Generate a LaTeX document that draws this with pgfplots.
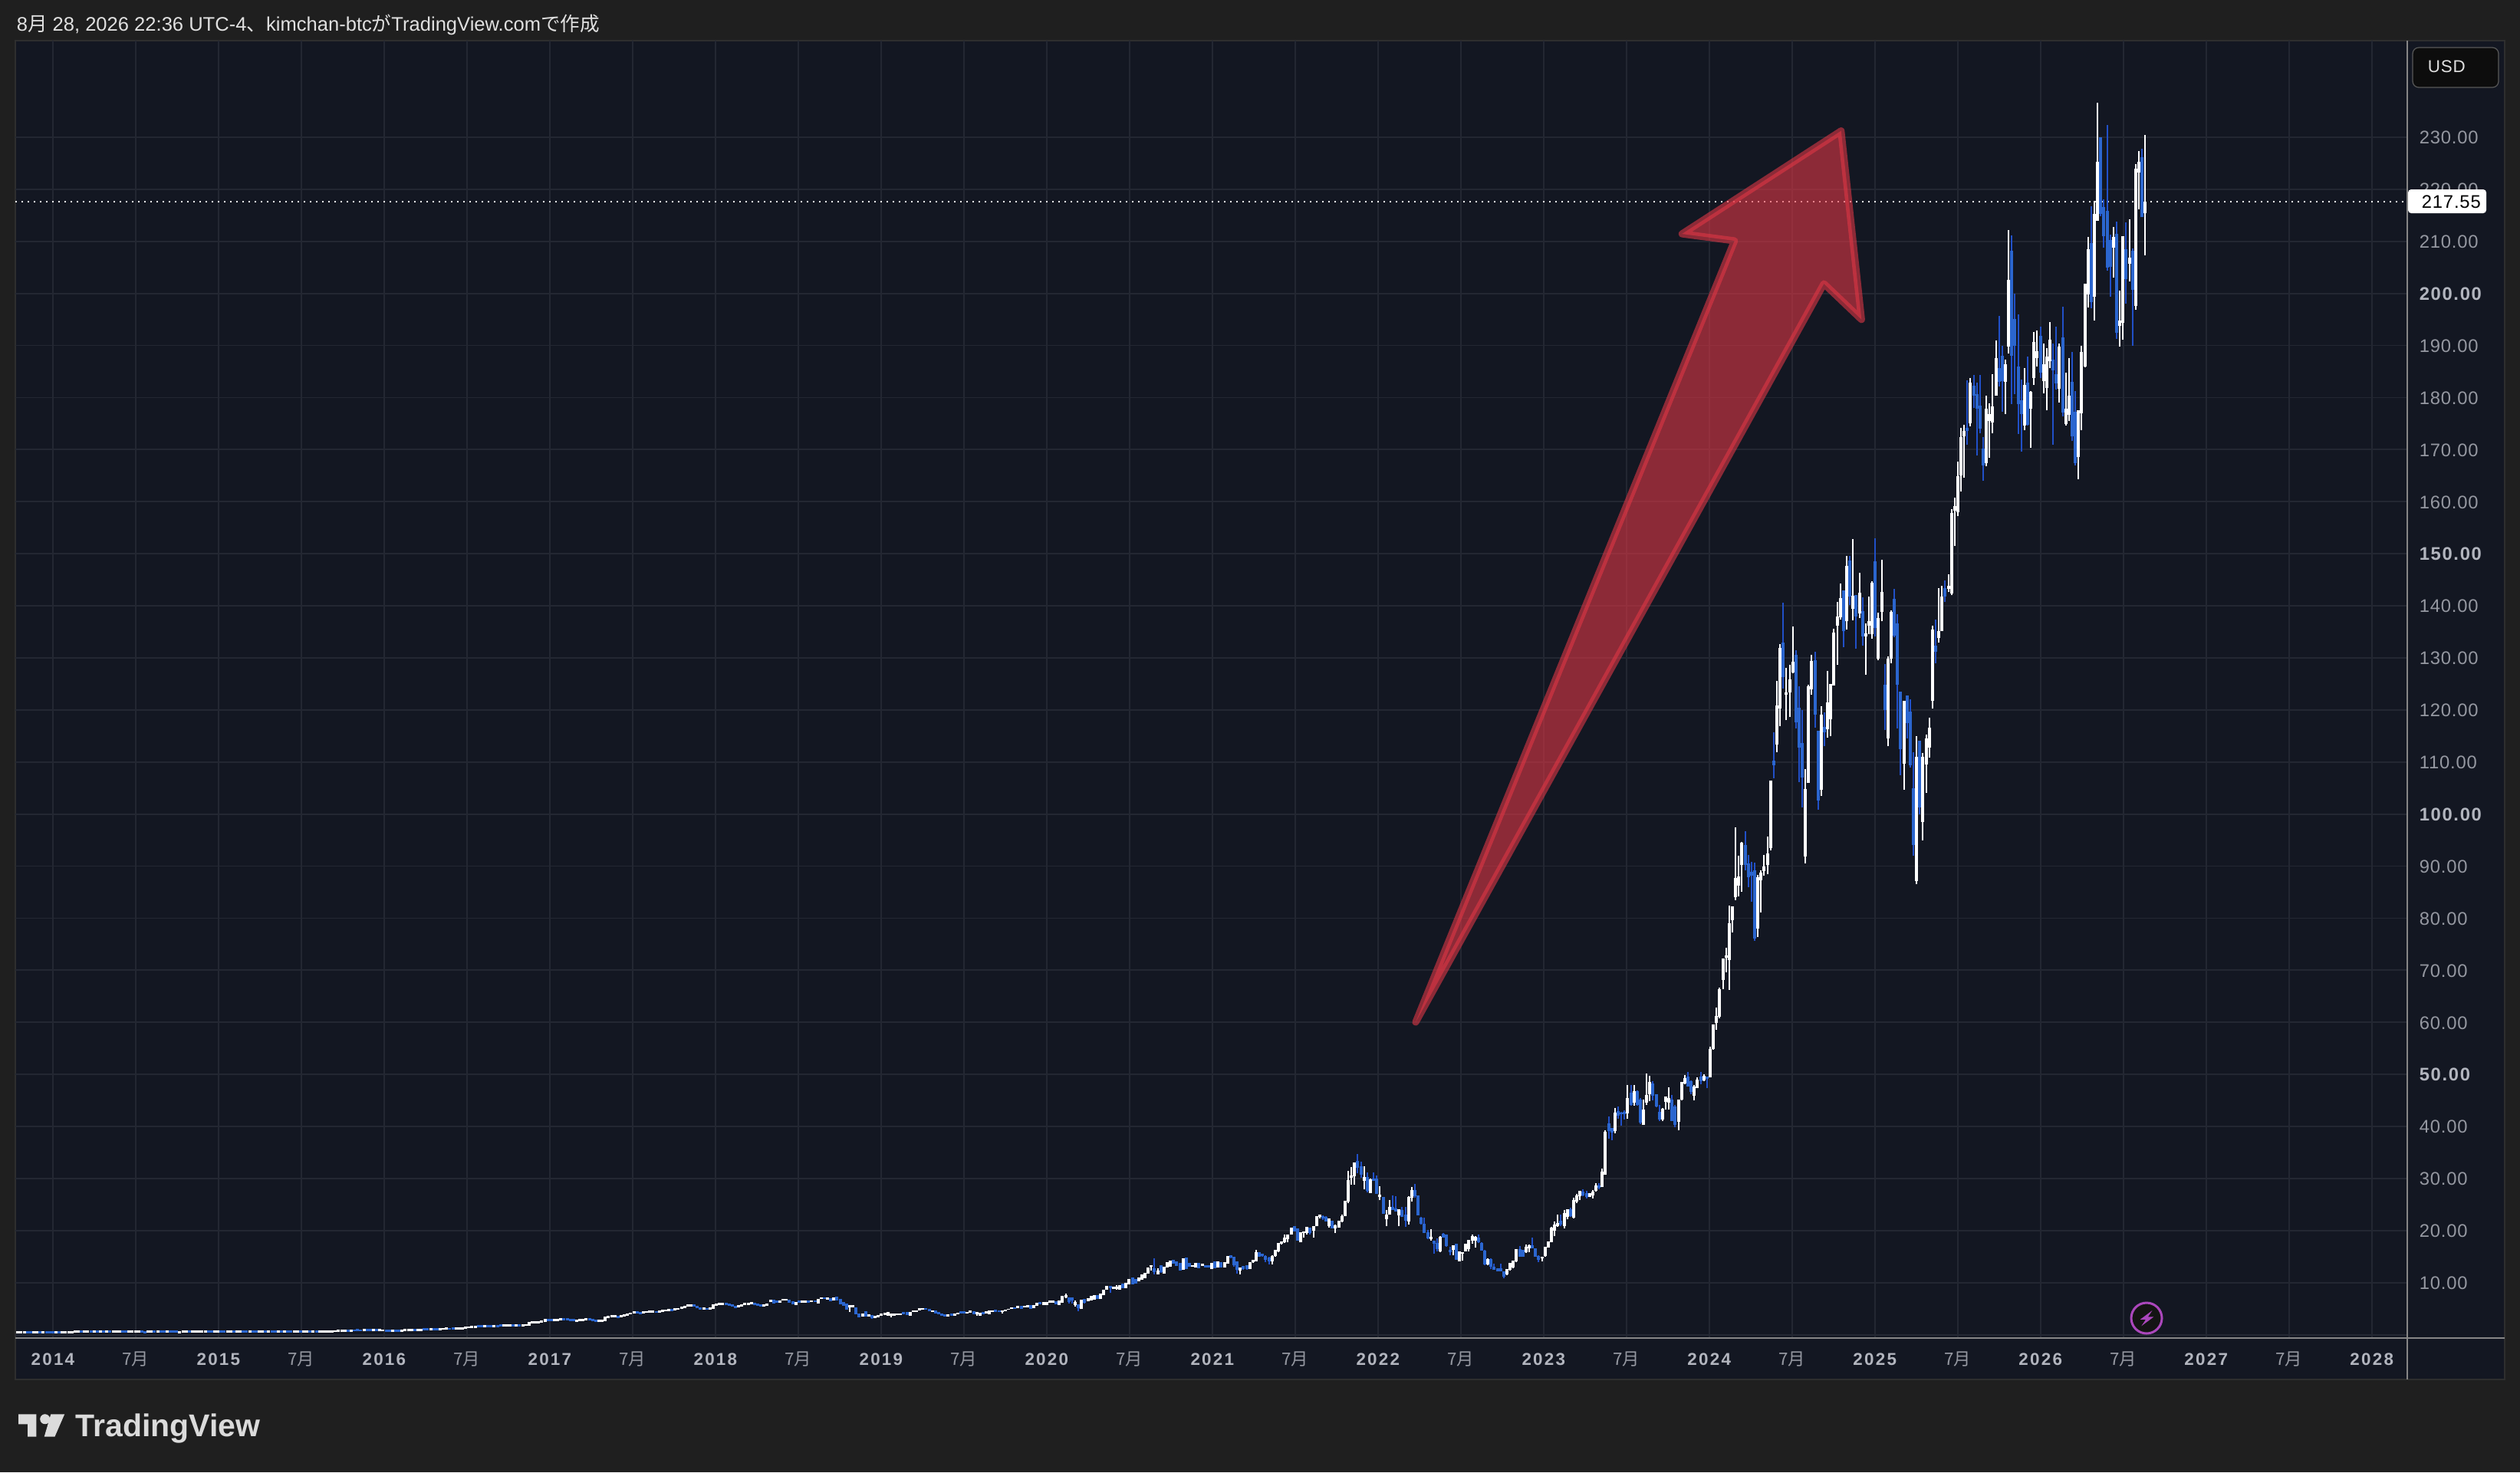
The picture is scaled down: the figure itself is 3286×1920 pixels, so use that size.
\documentclass[border=0pt]{standalone}
\usepackage{pgfplots}
\usepackage{pgfplotstable}
\usepackage{fontspec}
\pgfplotsset{compat=1.18}
\setmainfont{Liberation Sans}
\newfontfamily\tvfont[LetterSpace=3.5,BoldFeatures={LetterSpace=7}]{Liberation Sans}
\newfontfamily\tvxfont[LetterSpace=10]{Liberation Sans}
\newfontfamily\cjk{Noto Sans CJK JP}
\definecolor{pagebg}{HTML}{1F1F1F}
\definecolor{panebg}{HTML}{131722}
\definecolor{framec}{HTML}{2E2E2E}
\definecolor{gridc}{HTML}{232732}
\definecolor{axisc}{HTML}{868686}
\definecolor{tickc}{HTML}{9598A1}
\definecolor{tickb}{HTML}{B2B5BE}
\definecolor{wickb}{HTML}{2150C8}
\definecolor{bodyb}{HTML}{2B66CF}
\definecolor{arrowc}{HTML}{DE3745}
\definecolor{badge}{HTML}{AB47BC}
\newcommand\yb[1]{{\bfseries\color{tickb}#1}}
\newcommand\xb[1]{{\bfseries\color{tickb}#1}}
\newcommand\jl{{\cjk 7月}}
% w = week index, lo/hi = wick, b/t = body, c: 1 white, 0 blue
\pgfplotstableread{
w lo hi b t c
-11 .27 .57 .27 .57 1
-10 .27 .57 .27 .57 1
-9 .27 .57 .27 .57 1
-8 .27 .57 .27 .57 0
-7 .27 .57 .27 .57 0
-6 .27 .57 .27 .57 1
-5 .27 .57 .27 .57 1
-4 .27 .57 .27 .57 0
-3 .27 .57 .27 .57 1
-2 .27 .57 .27 .57 0
-1 .27 .57 .27 .57 0
0 .27 .57 .27 .57 0
1 .27 .57 .27 .57 1
2 .27 .57 .27 .57 0
3 .27 .57 .27 .57 1
4 .27 .57 .27 .57 1
5 .27 .57 .27 .57 1
6 .31 .61 .31 .61 1
7 .35 .65 .35 .65 1
8 .40 .70 .40 .70 1
9 .41 .71 .41 .71 0
10 .41 .71 .41 .71 1
11 .40 .70 .40 .70 1
12 .41 .71 .41 .71 0
13 .41 .71 .41 .71 1
14 .39 .69 .39 .69 0
15 .40 .70 .40 .70 1
16 .41 .71 .41 .71 0
17 .40 .70 .40 .70 1
18 .40 .70 .40 .70 0
19 .41 .71 .41 .71 1
20 .42 .72 .42 .72 1
21 .41 .71 .41 .71 1
22 .40 .70 .40 .70 0
23 .38 .68 .38 .68 0
24 .40 .70 .40 .70 1
25 .41 .71 .41 .71 1
26 .41 .71 .41 .71 1
27 .40 .70 .40 .70 1
28 .36 .66 .36 .66 0
29 .30 .60 .30 .60 0
30 .38 .68 .38 .68 1
31 .41 .71 .41 .71 1
32 .41 .71 .41 .71 0
33 .41 .71 .41 .71 1
34 .40 .70 .40 .70 0
35 .40 .70 .40 .70 0
36 .41 .71 .41 .71 1
37 .41 .71 .41 .71 0
38 .40 .70 .40 .70 0
39 .36 .66 .36 .66 0
40 .30 .60 .30 .60 1
41 .38 .68 .38 .68 1
42 .41 .71 .41 .71 1
43 .41 .71 .41 .71 0
44 .41 .71 .41 .71 1
45 .41 .71 .41 .71 1
46 .40 .70 .40 .70 1
47 .41 .71 .41 .71 1
48 .41 .71 .41 .71 1
49 .40 .70 .40 .70 0
50 .40 .70 .40 .70 0
51 .41 .71 .41 .71 1
52 .41 .71 .41 .71 1
53 .40 .70 .40 .70 0
54 .40 .70 .40 .70 0
55 .41 .71 .41 .71 1
56 .41 .71 .41 .71 1
57 .40 .70 .40 .70 0
58 .41 .71 .41 .71 1
59 .41 .71 .41 .71 1
60 .41 .71 .41 .71 0
61 .40 .70 .40 .70 0
62 .40 .70 .40 .70 1
63 .41 .71 .41 .71 0
64 .40 .70 .40 .70 0
65 .41 .71 .41 .71 1
66 .41 .71 .41 .71 1
67 .40 .70 .40 .70 0
68 .41 .71 .41 .71 1
69 .41 .71 .41 .71 0
70 .40 .70 .40 .70 0
71 .41 .71 .41 .71 1
72 .41 .71 .41 .71 0
73 .41 .71 .41 .71 1
74 .40 .70 .40 .70 0
75 .40 .70 .40 .70 0
76 .41 .71 .41 .71 1
77 .41 .71 .41 .71 1
78 .40 .70 .40 .70 0
79 .41 .71 .41 .71 1
80 .41 .71 .41 .71 1
81 .40 .70 .40 .70 0
82 .40 .70 .40 .70 1
83 .41 .71 .41 .71 0
84 .41 .71 .41 .71 1
85 .41 .71 .41 .71 1
86 .41 .71 .41 .71 1
87 .41 .71 .41 .71 1
88 .42 .72 .42 .72 1
89 .48 .78 .48 .78 1
90 .50 .80 .50 .80 1
91 .52 .82 .52 .82 1
92 .52 .82 .52 .82 1
93 .54 .84 .54 .84 0
94 .58 .88 .58 .88 1
95 .62 .92 .62 .92 0
96 .63 .93 .63 .93 0
97 .62 .92 .62 .92 0
98 .63 .93 .63 .93 1
99 .63 .93 .63 .93 0
100 .63 .93 .63 .93 0
101 .64 .94 .64 .94 1
102 .63 .93 .63 .93 0
103 .64 .94 .64 .94 1
104 .62 .92 .62 .92 1
105 .55 .85 .55 .85 0
106 .50 .80 .50 .80 0
107 .50 .80 .50 .80 1
108 .50 .80 .50 .80 0
109 .51 .81 .51 .81 0
110 .58 .88 .58 .88 1
111 .63 .93 .63 .93 1
112 .64 .94 .64 .94 1
113 .63 .93 .63 .93 1
114 .65 .95 .65 .95 0
115 .70 1.00 .70 1.00 1
116 .72 1.02 .72 1.02 1
117 .80 1.10 .80 1.10 0
118 .82 1.12 .82 1.12 0
119 .83 1.13 .83 1.13 1
120 .82 1.12 .82 1.12 0
121 .84 1.14 .84 1.14 0
122 .90 1.20 .90 1.20 1
123 .92 1.22 .92 1.22 1
124 .93 1.23 .93 1.23 1
125 .92 1.22 .92 1.22 0
126 .94 1.24 .94 1.24 0
127 .93 1.23 .93 1.23 1
128 .98 1.28 .98 1.28 1
129 1.04 1.34 1.04 1.34 1
130 1.15 1.45 1.15 1.45 1
131 1.20 1.50 1.20 1.50 1
132 1.25 1.55 1.25 1.55 1
133 1.27 1.57 1.27 1.57 1
134 1.38 1.68 1.38 1.68 0
135 1.40 1.70 1.40 1.70 0
136 1.41 1.71 1.41 1.71 1
137 1.41 1.71 1.41 1.71 0
138 1.42 1.72 1.42 1.72 0
139 1.42 1.72 1.42 1.72 1
140 1.48 1.78 1.48 1.78 0
141 1.52 1.82 1.52 1.82 0
142 1.53 1.83 1.53 1.83 1
143 1.52 1.82 1.52 1.82 1
144 1.54 1.84 1.54 1.84 1
145 1.53 1.83 1.53 1.83 0
146 1.54 1.84 1.54 1.84 1
147 1.55 1.85 1.55 1.85 0
148 1.60 1.90 1.60 1.90 1
149 1.65 1.95 1.65 1.95 1
150 1.70 2.30 1.70 2.30 1
151 2.15 2.45 2.15 2.45 1
152 2.15 2.45 2.15 2.45 1
153 2.20 2.50 2.20 2.50 1
154 2.35 2.65 2.35 2.65 1
155 2.40 2.90 2.40 2.90 1
156 2.60 2.90 2.60 2.90 0
157 2.60 2.90 2.60 2.90 0
158 2.55 2.85 2.55 2.85 1
159 2.65 2.95 2.65 2.95 1
160 2.75 3.05 2.75 3.05 1
161 2.80 3.10 2.80 3.10 0
162 2.75 3.05 2.75 3.05 0
163 2.65 2.95 2.65 2.95 0
164 2.55 2.85 2.55 2.85 0
165 2.50 2.80 2.50 2.80 1
166 2.55 2.85 2.55 2.85 1
167 2.65 2.95 2.65 2.95 1
168 2.75 3.05 2.75 3.05 1
169 2.70 3.00 2.70 3.00 0
170 2.55 2.85 2.55 2.85 0
171 2.40 2.70 2.40 2.70 0
172 2.40 2.70 2.40 2.70 1
173 2.45 2.75 2.45 2.75 1
174 2.60 3.30 2.60 3.30 1
175 3.25 3.55 3.25 3.55 1
176 3.30 3.60 3.30 3.60 1
177 3.35 3.65 3.35 3.65 1
178 3.25 3.55 3.25 3.55 0
179 3.35 3.65 3.35 3.65 1
180 3.55 3.85 3.55 3.85 1
181 3.65 3.95 3.65 3.95 1
182 3.85 4.15 3.85 4.15 1
183 4.05 4.35 4.05 4.35 1
184 4.05 4.35 4.05 4.35 0
185 3.95 4.25 3.95 4.25 0
186 4.05 4.35 4.05 4.35 1
187 4.15 4.45 4.15 4.45 1
188 4.20 4.50 4.20 4.50 1
189 4.25 4.55 4.25 4.55 1
190 4.15 4.45 4.15 4.45 0
191 4.25 4.55 4.25 4.55 1
192 4.35 4.65 4.35 4.65 1
193 4.45 4.75 4.45 4.75 1
194 4.55 4.85 4.55 4.85 1
195 4.55 4.85 4.55 4.85 0
196 4.65 4.95 4.65 4.95 1
197 4.75 5.05 4.75 5.05 1
198 4.95 5.25 4.95 5.25 1
199 5.15 5.45 5.15 5.45 1
200 5.35 5.65 5.35 5.65 1
201 5.45 5.75 5.45 5.75 1
202 5.35 5.65 5.35 5.65 0
203 5.05 5.35 5.05 5.35 0
204 4.85 5.15 4.85 5.15 0
205 4.85 5.15 4.85 5.15 1
206 4.75 5.05 4.75 5.05 0
207 4.85 5.15 4.85 5.15 1
208 5.00 5.70 5.00 5.70 1
209 5.55 5.85 5.55 5.85 1
210 5.65 5.95 5.65 5.95 1
211 5.75 6.05 5.75 6.05 1
212 5.65 5.95 5.65 5.95 0
213 5.55 5.85 5.55 5.85 0
214 5.35 5.65 5.35 5.65 0
215 5.15 5.45 5.15 5.45 0
216 5.25 5.55 5.25 5.55 1
217 5.45 5.75 5.45 5.75 1
218 5.65 5.95 5.65 5.95 1
219 5.75 6.05 5.75 6.05 1
220 5.85 6.15 5.85 6.15 1
221 5.65 5.95 5.65 5.95 0
222 5.55 5.85 5.55 5.85 0
223 5.45 5.75 5.45 5.75 0
224 5.35 5.65 5.35 5.65 1
225 5.5 5.9 5.5 5.9 1
226 6.3 6.6 6.3 6.6 1
227 6.0 6.6 6.0 6.6 0
228 6.1 6.4 6.1 6.4 0
229 6.2 6.5 6.2 6.5 1
230 6.5 6.7 6.5 6.7 1
231 6.55 6.7 6.55 6.7 1
232 6.1 6.6 6.1 6.6 0
233 5.9 6.3 5.9 6.3 0
234 5.7 6.1 5.7 6.1 1
235 6.2 6.4 6.2 6.4 0
236 6.2 6.4 6.2 6.4 1
237 6.2 6.4 6.2 6.4 1
238 6.1 6.4 6.1 6.4 0
239 6.3 6.5 6.3 6.5 1
240 6.3 6.5 6.3 6.5 0
241 6.0 6.8 6.0 6.8 1
242 6.9 7.1 6.9 7.1 1
243 6.8 7.1 6.8 7.1 0
244 6.7 7.0 6.7 7.0 1
245 6.4 6.9 6.4 6.9 0
246 6.5 7.0 6.5 7.0 1
247 6.5 7.2 6.5 7.2 0
248 5.9 6.7 5.9 6.7 0
249 5.6 6.1 5.6 6.1 0
250 4.8 5.8 4.8 5.8 0
251 4.4 5.5 5.2 5.5 1
252 5.3 5.5 5.3 5.5 1
253 3.9 5.2 3.9 5.2 0
254 3.4 4.0 3.4 4.0 0
255 3.5 4.0 3.5 4.0 1
256 3.5 4.4 3.5 4.4 0
257 3.5 3.8 3.5 3.8 1
258 3.0 3.7 3.2 3.7 0
259 3.2 3.5 3.2 3.5 1
260 3.4 3.6 3.4 3.6 1
261 3.6 3.9 3.6 3.9 1
262 3.8 4.1 3.8 4.1 1
263 3.7 4.2 3.7 4.2 1
264 3.4 3.9 3.7 3.9 1
265 3.7 3.9 3.7 3.9 1
266 3.8 4.0 3.8 4.0 1
267 3.8 4.0 3.8 4.0 1
268 3.9 4.2 3.9 4.2 0
269 3.8 4.2 3.8 4.2 0
270 3.7 4.3 3.7 4.3 1
271 4.4 4.6 4.4 4.6 1
272 4.4 4.6 4.4 4.6 1
273 4.7 5.0 4.7 5.0 1
274 4.75 4.95 4.75 4.95 1
275 4.75 4.95 4.75 4.95 0
276 4.5 4.8 4.5 4.8 0
277 4.35 4.6 4.35 4.6 1
278 4.1 4.5 4.1 4.5 0
279 3.9 4.2 3.9 4.2 0
280 3.7 3.9 3.7 3.9 0
281 3.5 3.8 3.5 3.8 0
282 3.5 3.8 3.5 3.8 1
283 3.6 3.9 3.6 3.9 0
284 3.6 3.9 3.6 3.9 1
285 3.9 4.1 3.9 4.1 1
286 4.0 4.4 4.0 4.4 0
287 4.1 4.4 4.1 4.4 0
288 4.1 4.3 4.1 4.3 1
289 4.2 4.5 4.2 4.5 1
290 3.9 4.4 3.9 4.4 0
291 3.7 4.2 3.9 4.2 1
292 3.7 4.1 3.7 4.1 1
293 3.9 4.3 3.9 4.3 0
294 4.0 4.4 4.0 4.4 1
295 3.9 4.5 3.9 4.5 1
296 4.4 4.6 4.4 4.6 1
297 4.4 4.7 4.4 4.7 0
298 4.3 4.5 4.3 4.5 0
299 4.1 4.6 4.3 4.6 1
300 4.5 4.75 4.5 4.75 1
301 4.75 4.9 4.75 4.9 1
302 4.95 5.2 4.95 5.2 1
303 5.0 5.15 5.0 5.15 0
304 5.1 5.35 5.1 5.35 1
305 5.0 5.4 5.0 5.4 0
306 5.25 5.4 5.25 5.4 1
307 5.25 5.5 5.25 5.5 1
308 5.0 5.6 5.0 5.6 0
309 5.1 5.6 5.1 5.6 1
310 5.6 6.0 5.6 6.0 1
311 5.8 6.1 5.8 6.1 0
312 5.7 6.1 5.7 6.1 1
313 5.7 6.2 5.7 6.2 1
314 6.2 6.4 6.2 6.4 1
315 6.2 6.4 6.2 6.4 1
316 5.8 6.3 5.8 6.3 0
317 5.7 6.4 5.7 6.4 1
318 6.1 7.3 6.1 7.3 1
319 7.05 7.9 7.2 7.45 1
320 6.0 7.0 6.3 7.0 0
321 6.0 7.1 6.5 7.0 0
322 5.4 6.6 5.7 6.1 1
323 4.5 5.8 5.1 5.7 0
324 4.9 6.6 4.9 6.6 1
325 6.0 6.9 6.2 6.7 0
326 6.4 6.9 6.4 6.9 1
327 6.5 7.3 6.5 7.3 1
328 6.7 7.45 6.7 7.45 1
329 6.9 7.45 6.9 7.45 0
330 6.8 7.8 6.8 7.8 1
331 7.55 8.5 7.55 8.5 1
332 8.7 9.2 8.7 9.2 1
333 8.0 9.3 9.0 9.25 0
334 8.8 9.1 8.8 9.1 1
335 8.7 9.5 8.8 9.15 1
336 8.6 9.4 8.6 9.4 1
337 9.0 9.65 9.0 9.65 0
338 9.0 9.8 9.0 9.8 1
339 9.65 10.6 9.65 10.6 1
340 9.65 10.8 9.65 10.8 0
341 9.8 10.6 9.8 10.6 0
342 10.3 10.8 10.3 10.8 1
343 10.5 11.4 10.5 11.4 1
344 10.9 11.7 10.9 11.7 1
345 11.7 12.75 11.7 12.75 1
346 12.25 13.3 13.0 13.3 1
347 11.6 14.65 12.0 12.6 0
348 11.55 12.8 11.6 12.25 1
349 11.9 13.4 12.0 13.2 0
350 11.7 12.9 11.7 12.9 1
351 12.85 13.8 12.85 13.8 1
352 13.0 14.05 13.0 14.05 1
353 13.6 14.3 13.6 14.3 0
354 13.2 13.9 13.2 13.9 0
355 12.25 13.6 12.25 13.6 0
356 12.45 14.5 12.45 14.5 1
357 12.6 14.65 12.6 14.65 0
358 13.0 13.6 13.0 13.6 0
359 13.0 13.3 13.0 13.3 1
360 12.9 13.6 12.9 13.6 1
361 12.75 13.7 12.75 13.7 0
362 13.2 13.5 13.2 13.5 1
363 12.9 13.2 12.9 13.2 0
364 12.9 13.3 12.9 13.3 0
365 12.6 13.6 12.6 13.6 1
366 12.75 13.9 12.75 13.9 0
367 12.85 13.9 12.85 13.9 1
368 12.85 13.8 12.85 13.8 0
369 12.95 13.8 12.95 13.8 1
370 13.6 15 13.7 15 1
371 14.6 15.3 14.8 15.2 0
372 13.1 15 13.4 14.9 0
373 11.8 13.9 12.4 13.9 0
374 11.6 12.8 12.3 12.8 1
375 12.4 13.2 12.6 13.1 0
376 12.4 13.3 12.6 13.3 0
377 12.6 13.8 12.6 13.8 1
378 13.8 14.4 13.9 14.3 1
379 14.1 16.3 14.1 15.8 1
380 14.9 15.8 15 15.7 0
381 15 15.5 15.1 15.4 0
382 13.9 15.3 14.4 15 0
383 13.5 14.9 14.1 14.7 0
384 13.5 15.2 14.1 15 1
385 15 16.3 15.1 16.2 1
386 15.9 17.6 16 17.5 1
387 17.3 17.8 17.5 17.8 1
388 17.6 19.3 17.7 18.6 1
389 17.7 19.3 18.3 19.1 1
390 19.2 20.6 19.2 20.5 1
391 19.8 20.8 19.9 20.7 0
392 18 20.4 18 20.3 0
393 17.7 19.7 17.7 19.6 1
394 18.7 19.8 19.5 19.7 1
395 19.3 20.7 19.5 20.6 1
396 19.3 20.6 19.5 20.4 0
397 18.7 20.8 20 20.8 1
398 20.8 22.7 20.8 22.6 1
399 22.3 23 22.6 22.9 1
400 22.1 22.9 22.3 22.7 0
401 21.7 22.7 21.8 22.5 0
402 20.6 22.4 20.9 22.2 1
403 20.4 21.8 20.4 21.7 0
404 19.5 21.2 20.4 20.9 1
405 20.6 21.9 20.6 21.8 1
406 21.6 23 21.7 22.7 1
407 22.7 25.6 22.7 25.6 1
408 25.3 31.5 25.6 29.6 1
409 28.8 32.2 30.2 30.5 1
410 28.8 33 30.5 32.9 1
411 31 34.7 32 33.3 0
412 30.2 33.3 30.7 32.2 0
413 28 32.4 29.6 30.1 1
414 27.3 31.1 27.6 30.2 0
415 27.2 30 27.2 29.7 1
416 29.5 31.2 29.5 29.9 0
417 27 30.6 27.1 29.8 0
418 25.8 28.5 26.5 26.8 1
419 23.2 26.3 23.2 26.3 0
420 20.9 23.9 22.2 22.9 1
421 23.1 25.8 23.1 24.4 1
422 23.9 26.8 23.9 24.4 0
423 23.6 26.6 23.7 24.1 0
424 20.8 24.1 22.9 24 1
425 22.6 24.6 22.6 23.9 0
426 20.7 24.6 21.9 22.9 0
427 21.2 26.6 21.8 26.4 1
428 25.6 28.3 26.3 27.6 1
429 26.3 28.9 26.6 27.6 0
430 22.9 26.7 22.9 26.7 0
431 21.1 22.6 21.3 22.3 0
432 19.5 22.5 19.5 21.2 0
433 18.3 20.1 18.5 19.5 0
434 18.1 20.3 18.4 18.7 1
435 15.6 18.1 17.5 18 0
436 16 18.5 16.5 17.5 0
437 15.9 18.9 16 18.7 1
438 18.6 19.6 18.7 19.2 0
439 16.9 19.2 17 19.1 0
440 15.3 16.9 15.9 16.2 0
441 15.3 17 16.3 17 1
442 14.4 17.3 14.4 17.3 0
443 14.1 15.9 14.1 15.9 1
444 14.3 15.9 15.6 15.8 1
445 16 17.3 16 17.3 1
446 16 18.2 16.5 18.1 1
447 17.5 19.2 18.1 18.8 1
448 16.8 19 18 18.7 1
449 17.6 19.2 17.7 18.6 0
450 16.2 17.7 16.2 17.5 0
451 13.4 16.3 13.5 16 0
452 13.3 14.6 13.5 14.4 1
453 12.6 14.6 13.1 14.4 0
454 12.4 13.6 12.4 13 0
455 12.1 12.8 12.1 12.6 0
456 12.1 13.6 12.1 12.6 0
457 10.9 12.1 11.1 12.1 0
458 11.5 12.6 11.6 12.5 1
459 12.3 13.8 12.4 13.7 1
460 12.7 14.1 12.9 14.1 1
461 13.9 16.4 14.1 16.3 1
462 15 17 15 16.3 0
463 15 16.2 15 16.2 0
464 15.7 17.3 15.8 16.8 1
465 15.8 17.3 16.6 17 1
466 16.6 18.7 16.6 17 0
467 14.9 16.6 15 16.5 0
468 13.9 15.2 14.4 15 0
469 14.1 14.9 14.6 14.9 1
470 15 16.9 15.1 16.8 1
471 16.8 17.8 16.8 17.8 1
472 17.7 20.7 17.8 20.4 1
473 19 21.8 20 21.1 1
474 20.7 23 20.8 21.3 1
475 20.9 23 21.2 21.8 0
476 20.4 23.9 20.8 23.3 1
477 22.2 24.1 22.6 24 1
478 22.6 24.4 22.7 24 0
479 22.4 26.3 22.5 25.7 1
480 25.3 27.1 25.6 26.7 1
481 25.8 27.7 26.6 27.5 1
482 26.6 28 26.7 27.4 0
483 26.2 27.6 26.4 27.1 0
484 26.4 27.1 26.5 27.1 1
485 26.2 27.8 26.8 27.3 1
486 27.5 29.1 27.7 28.6 1
487 28 29.1 28.2 28.5 0
488 28.3 31.9 28.3 31.2 1
489 30.7 39.3 30.7 38.9 1
490 37.7 41.9 39.1 40.5 0
491 37.4 39.7 38.8 39.6 0
492 38.7 43.6 39.1 42.5 1
493 41.5 43.8 42 42.8 0
494 40.1 42.8 42.3 42.6 0
495 41.3 43.1 42.3 42.7 0
496 41.5 48 42.5 45.4 1
497 44 47.9 44.1 46.3 0
498 44 47.9 44.5 46.7 1
499 44 46.9 44.1 46.7 0
500 40.5 45.4 40.7 45.1 0
501 40.3 45.1 40.3 43.1 1
502 44.2 50.2 44.5 45.9 1
503 44.8 49.7 46.2 48.4 1
504 45 48.7 45.9 48.1 0
505 43.7 46 43.8 46 0
506 41 44.2 41.3 42.7 0
507 41 43.5 41.4 43.3 1
508 43.2 45.7 44.7 45.6 1
509 43.2 47.5 44.5 45.4 1
510 41 46.1 41.1 45 0
511 39.8 44.2 40.3 43.7 0
512 39.2 45.1 40.9 45 1
513 45 48.4 45.1 48.4 1
514 48.1 49.9 48.2 49.2 1
515 47.6 50.5 47.6 49.4 0
516 46.2 48.9 46.7 48.6 0
517 45 47.9 45.9 47.6 1
518 47.3 49.4 47.3 48.8 1
519 48.1 50.5 48.7 49.4 0
520 48.7 50 48.8 49.6 1
521 47.4 49.6 49.1 49.4 0
522 49.4 55.3 49.4 54.7 1
523 54.8 59.5 54.9 59.5 1
524 58.6 62.8 59.9 61.1 1
525 60.8 66.6 61.1 66.2 1
526 66.4 72.3 68.2 72.2 1
527 69.6 74.3 72.4 72.7 1
528 66.2 82.4 71.9 78.9 1
529 77.2 82.2 79.6 82.2 1
530 83.5 97.4 84 87.6 1
531 84.2 92 86.3 87.9 1
532 85.1 94.7 90.2 94.4 1
533 89.2 96.7 90.2 94 0
534 86 92.2 87.9 90.4 0
535 83.1 90.8 88.1 88.8 0
536 75.7 90.7 76.1 89 0
537 76.4 88.3 78 87.7 1
538 81.1 89.2 87.3 88.6 1
539 88.2 92.2 89.1 89.8 1
540 88.5 95.7 90.2 92.3 1
541 93 106.3 93.5 106.3 1
542 106.9 115.7 109.4 110.1 0
543 111.9 125.5 113.4 120.7 1
544 116.9 132.6 120.2 131.8 1
545 124.1 140.6 126.3 132.8 0
546 118 128 122.9 123.3 1
547 118.7 128.7 123.3 125.7 1
548 127 136 127.2 129.2 1
549 116.5 131.4 117.6 130.5 0
550 106.2 124.5 112.8 120.3 0
551 101.3 120 107 113.5 0
552 90.5 108.6 91.9 104.7 1
553 106 124.8 106 124.4 1
554 122.9 130.6 124 129.3 1
555 116.6 131.2 119.1 129.4 0
556 100.8 115.9 102.6 115.9 0
557 103.5 120.7 104.6 119 1
558 113 119.6 115.7 116.6 0
559 114.7 127.5 116.3 121.3 1
560 115 124.8 118.2 124.8 1
561 124.7 135.6 124.7 134.7 1
562 128.7 140.8 136.2 137.8 1
563 137.4 144.3 137.8 141.4 1
564 132 142.9 135.2 142.9 0
565 135.5 149.6 137 147.6 1
566 140.1 149.6 141.7 148.6 0
567 137.2 152.8 139.4 141.8 1
568 131.7 141.9 138 141.9 0
569 137.7 146.4 138.6 142.4 1
570 132.4 141.6 134.1 138.8 0
571 126.8 136.6 134.1 134.6 1
572 134.6 141.7 136.1 136.9 1
573 133.7 144.7 134.5 144.3 1
574 134.1 152.9 135.7 148.4 0
575 129.5 138.7 129.8 137.5 1
576 137 148.8 138.8 142.5 1
577 116.2 128.8 119.9 124.7 0
578 113 130.3 114.5 129.7 1
579 129 139.1 129.9 138.7 1
580 133.9 143.2 134.2 141.2 0
581 116.4 138.4 124.8 136.5 0
582 107.5 123.4 112.5 123.4 0
583 104.7 121.7 109.7 121.6 1
584 114.5 122.7 117.5 122.6 0
585 109 122 109.4 119.6 0
586 92 111.9 94.1 104.9 0
587 86.6 115 87.2 110.8 1
588 99.9 114.1 101.3 114 0
589 95 111.7 98.5 110.8 1
590 104 115.3 109.5 114.4 1
591 110.8 118.5 112.7 116.4 1
592 120.2 136.2 121.7 135.3 1
593 129 137.3 131.1 132.2 0
594 132.9 143.4 133.8 135 1
595 135.2 143.8 135.2 141.6 1
596 140.8 144.9 141.7 143.2 0
597 142.6 146.1 143.2 143.7 1
598 142 158.6 142.3 157.7 1
599 151.5 160.8 158.2 159.1 1
600 157.3 167.7 158 164.8 1
601 162 174.2 165 172.3 1
602 164.6 174.7 172.5 173.5 1
603 170.9 183.3 173.6 174 0
604 174.5 183.8 175 182.7 1
605 178 184.4 180.4 182.1 0
606 168.8 182.9 177.9 180.6 0
607 173.1 184.4 174 178.3 0
608 164 172.4 167 170 0
609 166.8 180.3 167.4 177.8 1
610 168.4 178.9 175.5 176.7 1
611 173.1 184.5 175.2 178.1 1
612 180.3 191 180.3 187.5 1
613 182.1 195.6 183 185.5 0
614 177.3 190 183.2 187.9 0
615 176.8 187.3 183 186.2 1
616 188.5 212.1 189.8 202.4 1
617 178.8 211.2 188 208 0
618 180.6 199.9 190 195 0
619 173 195.9 178.7 185.9 0
620 169.6 183.4 176.8 179.4 0
621 173.7 185.6 174.6 182.3 1
622 174.6 187.9 174.8 182.7 0
623 170.4 181.3 177.9 180.9 1
624 182.4 192.6 183.8 190.5 1
625 186 192.8 187.6 188.8 1
626 183.8 193.6 184.8 191.7 0
627 180.8 190.4 183.2 186.2 1
628 177.5 189.5 181.8 187.7 1
629 185.6 194.5 187 191 1
630 171 190.3 185.2 187.2 0
631 181.5 193.6 182.7 184.3 0
632 179.1 190.3 181.7 189.7 1
633 176.4 197.5 177.1 191.4 0
634 174.6 184.7 174.9 177.8 1
635 175.5 187.6 176.7 180.2 1
636 171.6 188.8 172.5 182.9 0
637 167 181.2 167.4 177.2 0
638 164.3 177.5 168.5 177.4 1
639 173.7 190 177 188.6 1
640 185.8 201.7 185.9 201.7 1
641 197.3 210.9 199.8 208.3 1
642 197.2 216.8 198.3 209.6 0
643 194.8 217.7 199.4 215.2 1
644 213.9 236.6 213.9 225.2 1
645 214.8 229.9 215.3 229.8 0
646 208.8 218.1 211 216.5 0
647 204.4 232.3 205 215.7 0
648 199.4 211.3 205.1 210.2 0
649 203 212.7 208.8 210.7 1
650 191.3 213.8 192.4 211.3 0
651 189.8 200.6 193.7 194.7 1
652 191.1 210.9 194.3 210.9 1
653 198 213.7 202.8 208.4 0
654 202.3 214.3 205.7 206.8 1
655 190 208.7 200.7 208.1 0
656 196.9 224.8 197.6 223.9 1
657 216.2 227.4 223.2 225.1 1
658 214.6 227.8 214.6 226 0
659 207.3 230.4 215.4 217.55 1
}\candles
\begin{document}
\begin{tikzpicture}
\begin{scope}[x=0.25pt,y=-0.25pt]
\useasboundingbox (0,0) rectangle (3286,1920);
\fill[pagebg] (0,0) rectangle (3286,1920);
\fill[panebg,draw=framec,line width=0.6pt] (20,53) rectangle (3266,1799);
\end{scope}
\begin{axis}[
  at={(5pt,-436.25pt)},anchor=south west,
  scale only axis,width=779.75pt,height=423pt,
  xmin=-11.81,xmax=741.57,ymin=-0.65,ymax=248.54,
  axis line style={draw=none},
  major tick length=0pt,
  grid=major,grid style={gridc,line width=0.45pt},
  xtick={0,26.085,52.17,78.255,104.34,130.425,156.51,182.595,208.68,234.765,260.85,286.935,313.02,339.105,365.19,391.275,417.36,443.445,469.53,495.615,521.7,547.785,573.87,599.955,626.04,652.125,678.21,704.295,730.38},
  xticklabels={\xb{2014},\jl,\xb{2015},\jl,\xb{2016},\jl,\xb{2017},\jl,\xb{2018},\jl,\xb{2019},\jl,\xb{2020},\jl,\xb{2021},\jl,\xb{2022},\jl,\xb{2023},\jl,\xb{2024},\jl,\xb{2025},\jl,\xb{2026},\jl,\xb{2027},\jl,\xb{2028}},
  xticklabel pos=bottom,
  xticklabel style={font=\tvxfont\fontsize{5.6}{6}\selectfont,text=tickc,anchor=base,yshift=-8.75pt},
  ytick={0,10,20,30,40,50,60,70,80,90,100,110,120,130,140,150,160,170,180,190,200,210,220,230},
  yticklabels={{},10.00,20.00,30.00,40.00,\yb{50.00},60.00,70.00,80.00,90.00,\yb{100.00},110.00,120.00,130.00,140.00,\yb{150.00},160.00,170.00,180.00,190.00,\yb{200.00},210.00,220.00,230.00},
  yticklabel pos=right,
  yticklabel style={font=\tvfont\fontsize{5.95}{6}\selectfont,text=tickc,anchor=west,xshift=0.4pt,yshift=-0.15pt},
  clip=true,
]
\addplot[white,line width=0.5pt,dash pattern=on 0.5pt off 1.5pt,forget plot] coordinates {(-11.81,217.6)(741.57,217.6)};
\addplot[draw=none,forget plot,x filter/.expression={\thisrow{c}==0 ? x : nan},
  error bars/.cd,y dir=plus,y explicit,error mark=none,error bar style={draw=wickb,solid,line width=0.5pt}]
  table[x=w,y=lo,y error plus expr=\thisrow{hi}-\thisrow{lo}] {\candles};
\addplot[draw=none,forget plot,x filter/.expression={\thisrow{c}==0 ? x : nan},
  error bars/.cd,y dir=plus,y explicit,error mark=none,error bar style={draw=bodyb,solid,line width=1pt}]
  table[x=w,y=b,y error plus expr=\thisrow{t}-\thisrow{b}+0.12] {\candles};
\addplot[draw=none,forget plot,x filter/.expression={\thisrow{c}==1 ? x : nan},
  error bars/.cd,y dir=plus,y explicit,error mark=none,error bar style={draw=white,solid,line width=0.5pt}]
  table[x=w,y=lo,y error plus expr=\thisrow{hi}-\thisrow{lo}] {\candles};
\addplot[draw=none,forget plot,x filter/.expression={\thisrow{c}==1 ? x : nan},
  error bars/.cd,y dir=plus,y explicit,error mark=none,error bar style={draw=white,solid,line width=1pt}]
  table[x=w,y=b,y error plus expr=\thisrow{t}-\thisrow{b}+0.12] {\candles};
\end{axis}
\begin{scope}[x=0.25pt,y=-0.25pt]
% frame lines
\draw[axisc,line width=0.7pt] (20,1745) -- (3266,1745);
\draw[axisc,line width=0.6pt] (3139,53) -- (3139,1799);
% arrow
\fill[arrowc,opacity=0.6] (1846,1333) -- (2261.7,314) -- (2193.3,305) -- (2400.7,170.7) -- (2427.3,416.7) -- (2378.3,370) -- cycle;
\draw[arrowc,opacity=0.6,line width=2.3pt,line join=round] (1846,1333) -- (2261.7,314) -- (2193.3,305) -- (2400.7,170.7) -- (2427.3,416.7) -- (2378.3,370) -- cycle;
% USD box
\draw[fill=black!95!white,draw=black!65!white,line width=0.3pt,rounded corners=2pt] (3146,62) rectangle (3258,114);
\node[anchor=west,inner sep=0pt,text=white!88!black,font=\tvfont\fontsize{5.6}{6}\selectfont] at (3165,87) {USD};
% price label
\fill[white,rounded corners=1pt] (3140,247) rectangle (3242,278);
\node[anchor=west,inner sep=0pt,text=black,font=\tvfont\fontsize{5.95}{6}\selectfont] at (3157,263) {217.55};
% badge
\draw[fill=black!92!white,draw=badge,line width=0.75pt] (2799,1719) circle[radius=20];
\fill[badge] (2806.5,1709) -- (2790.8,1720.7) -- (2797.9,1721) -- (2792.3,1729.3) -- (2808.4,1717.3) -- (2800.9,1717.3) -- cycle;
% header
\node[anchor=west,inner sep=0pt,text=white!88!black,font=\fontsize{6.39}{7}\selectfont] at (21,32) {8{\cjk 月} 28, 2026 22:36 UTC-4{\cjk 、}kimchan-btc{\cjk が}TradingView.com{\cjk で作成}};
% watermark
\fill[white!86!black] (24,1844.3) -- (47.4,1844.3) -- (47.4,1873.7) -- (36.2,1873.7) -- (36.2,1857.3) -- (24,1857.3) -- cycle;
\fill[white!86!black] (58.7,1850.7) circle[radius=6.5];
\fill[white!86!black] (66.3,1844.3) -- (84.2,1844.3) -- (71.4,1873.7) -- (57.7,1873.7) -- cycle;
\node[anchor=base west,inner sep=0pt,text=white!86!black,font=\bfseries\fontsize{10.25}{12}\selectfont] at (98,1873.7) {TradingView};
\end{scope}
\end{tikzpicture}
\end{document}
